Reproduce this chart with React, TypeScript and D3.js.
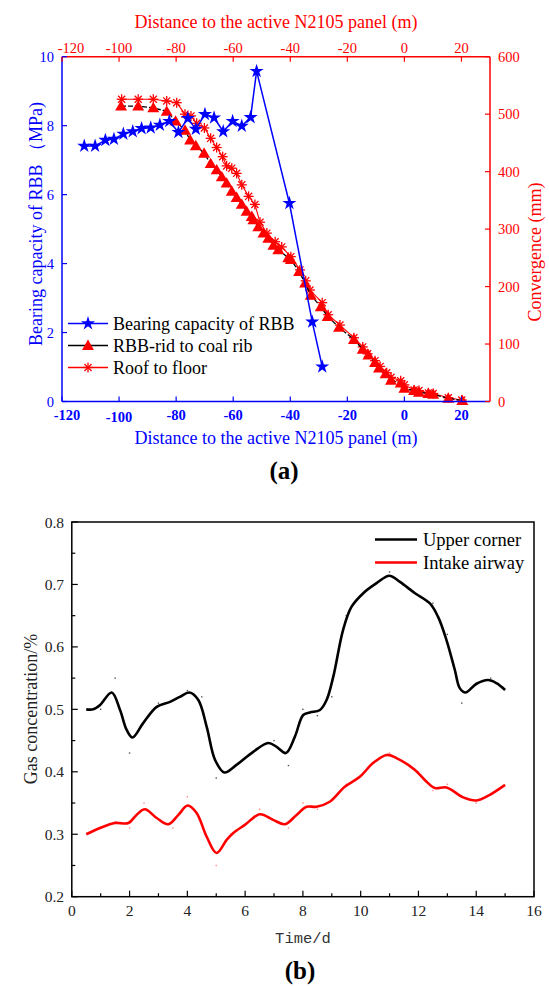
import React from "react";
import * as d3 from "d3";

// ---------- Chart (a) data ----------
const bearingX = [-112.2, -108.4, -104.8, -101.8, -98.5, -95.2, -92.1, -88.9, -85.7, -82.4, -79.2, -75.9, -73.1, -69.9, -66.7, -63.5, -60.2, -57.0, -53.9, -51.8, -40.3, -32.3, -28.8];
const bearingY = [7.41, 7.41, 7.58, 7.61, 7.76, 7.83, 7.92, 7.94, 8.02, 8.13, 7.81, 8.21, 7.90, 8.33, 8.23, 7.83, 8.13, 7.99, 8.24, 9.58, 5.75, 2.31, 1.01];

const ribX = [-99.3, -93.3, -88.0, -83.3, -80.2, -76.9, -75.1, -73.1, -70.2, -67.9, -65.8, -64.0, -62.3, -60.5, -58.8, -57.0, -55.3, -53.5, -52.9, -51.2, -49.4, -47.7, -45.9, -44.2, -40.7, -39.8, -36.9, -34.8, -32.8, -29.3, -26.9, -22.9, -17.7, -14.6, -12.6, -10.3, -8.9, -6.6, -4.7, -1.3, 0.0, 3.4, 5.1, 8.4, 10.1, 15.4, 20.3];
const ribY = [514, 514, 511, 505, 488, 472, 455, 445, 432, 414, 403, 391, 380, 366, 355, 343, 331, 322, 316, 304, 293, 284, 272, 264, 250, 247, 226, 206, 185, 165, 148, 129, 108, 91, 81, 68, 58, 48, 37, 32, 23, 19, 16, 14, 12.5, 5.5, 1.5];

const roofX = [-99.1, -93.3, -88.0, -83.3, -79.8, -76.9, -74.8, -72.8, -70.1, -67.9, -65.8, -63.7, -62.3, -60.5, -58.8, -57.0, -54.6, -52.4, -50.6, -48.2, -45.3, -43.0, -39.8, -36.6, -34.6, -33.1, -28.8, -26.7, -22.6, -17.7, -14.6, -12.9, -10.3, -8.5, -6.2, -4.7, -1.3, 0.0, 3.4, 5.1, 8.4, 10.1, 15.4, 20.1];
const roofY = [526, 526, 526, 523, 520, 500, 497, 484, 476, 458, 442, 426, 410, 406, 397, 377, 357, 343, 312, 293, 278, 269, 252, 229, 210, 194, 172, 151, 133, 111, 95, 83, 71, 61, 50, 42, 36, 29, 20, 19, 15, 14, 6.6, 2.6];

const xTicksA = [-120, -100, -80, -60, -40, -20, 0, 20];
const yTicksL = [0, 2, 4, 6, 8, 10];
const yTicksR = [0, 100, 200, 300, 400, 500, 600];
const legendA = ["Bearing capacity of RBB", "RBB-rid to coal rib", "Roof to floor"];

// ---------- Chart (b) data ----------
const upperT = [0.5, 0.74, 0.98, 1.38, 1.67, 1.9, 2.1, 2.47, 2.94, 3.4, 3.74, 4.07, 4.38, 4.67, 4.96, 5.28, 5.7, 6.28, 6.8, 7.09, 7.41, 7.72, 8.01, 8.24, 8.59, 8.82, 9.05, 9.39, 9.68, 10.09, 10.55, 10.99, 11.36, 11.88, 12.39, 12.68, 12.97, 13.26, 13.43, 13.63, 14.01, 14.41, 14.7, 15.0];
const upperV = [0.5, 0.5, 0.507, 0.527, 0.499, 0.467, 0.455, 0.478, 0.504, 0.512, 0.52, 0.527, 0.515, 0.472, 0.419, 0.399, 0.411, 0.432, 0.446, 0.44, 0.43, 0.456, 0.491, 0.495, 0.499, 0.515, 0.552, 0.627, 0.664, 0.686, 0.702, 0.714, 0.704, 0.686, 0.67, 0.648, 0.611, 0.563, 0.534, 0.527, 0.541, 0.547, 0.542, 0.531];
const intakeT = [0.5, 0.98, 1.49, 1.96, 2.24, 2.53, 2.94, 3.34, 3.69, 4.01, 4.32, 4.67, 5.01, 5.36, 5.59, 5.99, 6.51, 6.97, 7.38, 7.78, 8.13, 8.47, 8.93, 9.45, 9.97, 10.43, 10.9, 11.24, 11.88, 12.22, 12.57, 12.97, 13.55, 14.01, 14.47, 15.0];
const intakeV = [0.3, 0.31, 0.318, 0.318, 0.331, 0.34, 0.326, 0.316, 0.331, 0.346, 0.334, 0.296, 0.27, 0.291, 0.302, 0.315, 0.332, 0.323, 0.316, 0.331, 0.344, 0.344, 0.352, 0.376, 0.392, 0.414, 0.427, 0.422, 0.403, 0.387, 0.374, 0.375, 0.359, 0.354, 0.363, 0.379];
const upperRawT = [1, 1.5, 2, 3, 4, 4.5, 5, 7, 7.5, 8, 8.5, 9, 9.5, 11, 12.5, 13, 13.5, 14.5];
const upperRawV = [0.5, 0.55, 0.43, 0.51, 0.53, 0.52, 0.39, 0.45, 0.41, 0.5, 0.49, 0.52, 0.65, 0.72, 0.67, 0.62, 0.51, 0.55];
const intakeRawT = [1.5, 2, 2.5, 3.5, 4, 5, 5.5, 6.5, 7.5, 8, 8.5, 9.5, 11, 12, 12.5, 13, 14];
const intakeRawV = [0.32, 0.31, 0.35, 0.31, 0.36, 0.25, 0.3, 0.34, 0.31, 0.35, 0.34, 0.38, 0.43, 0.4, 0.37, 0.38, 0.35];
const xTicksB = [0, 2, 4, 6, 8, 10, 12, 14, 16];
const yTicksB = [0.2, 0.3, 0.4, 0.5, 0.6, 0.7, 0.8];
const legendB = ["Upper corner", "Intake airway"];

const SERIF = "'Liberation Serif', 'Times New Roman', serif";
const BLUE = "#0000ff";
const RED = "#ff0000";

function Asterisk({ x, y, r = 5 }: { x: number; y: number; r?: number }) {
  const spokes = [0, 45, 90, 135];
  return (
    <g transform={`translate(${x},${y})`}>
      {spokes.map((a) => {
        const rad = (a * Math.PI) / 180;
        return (
          <line key={a} x1={-r * Math.cos(rad)} y1={-r * Math.sin(rad)} x2={r * Math.cos(rad)} y2={r * Math.sin(rad)} stroke={RED} strokeWidth={1.3} />
        );
      })}
    </g>
  );
}

export default function App() {
  // ----- chart (a) scales -----
  const xA = d3.scaleLinear().domain([-120, 30]).range([62, 490]);
  const yL = d3.scaleLinear().domain([0, 10]).range([401.5, 56.7]);
  const yR = d3.scaleLinear().domain([0, 600]).range([401.5, 56.7]);
  const starPath = d3.symbol().type(d3.symbolStar).size(62)() as string;
  const triPath = d3.symbol().type(d3.symbolTriangle).size(62)() as string;

  const bearing = bearingX.map((x, i) => [x, bearingY[i]] as [number, number]);
  const rib = ribX.map((x, i) => [x, ribY[i]] as [number, number]);
  const roof = roofX.map((x, i) => [x, roofY[i]] as [number, number]);
  const lineL = d3.line<[number, number]>().x((d) => xA(d[0])).y((d) => yL(d[1]));
  const lineR = d3.line<[number, number]>().x((d) => xA(d[0])).y((d) => yR(d[1]));

  // ----- chart (b) scales -----
  const xB = d3.scaleLinear().domain([0, 16]).range([71.8, 534]);
  const yB = d3.scaleLinear().domain([0.2, 0.8]).range([896.7, 522]);
  const upper = upperT.map((t, i) => [t, upperV[i]] as [number, number]);
  const intake = intakeT.map((t, i) => [t, intakeV[i]] as [number, number]);
  const lineB = d3
    .line<[number, number]>()
    .x((d) => xB(d[0]))
    .y((d) => yB(d[1]))
    .curve(d3.curveCatmullRom.alpha(0.5));
  const minorX = d3.range(1, 16, 2);
  const minorY = [0.25, 0.35, 0.45, 0.55, 0.65, 0.75];

  const [aL, aR] = xA.range();
  const aB = 401.5, aT = 56.7;
  const [bL, bR] = xB.range();
  const bB = 896.7, bT = 522;

  return (
    <svg width={549} height={986} style={{ position: "absolute", left: 0, top: 0, background: "#fff" }} fontFamily={SERIF}>
      <rect x={0} y={0} width={549} height={986} fill="#fff" />
      {/* ================= Chart (a) ================= */}
      <text x={276} y={22} fill={RED} fontSize={18} textAnchor="middle" dominantBaseline="central">
        Distance to the active N2105 panel (m)
      </text>
      {/* data: roof to floor */}
      <path d={lineR(roof) as string} fill="none" stroke={RED} strokeWidth={1.1} />
      {roof.map((d, i) => (
        <Asterisk key={"r" + i} x={xA(d[0])} y={yR(d[1])} />
      ))}
      {/* data: rib */}
      <path d={lineR(rib) as string} fill="none" stroke="#000" strokeWidth={1.3} strokeDasharray="5,2" />
      {rib.map((d, i) => (
        <path key={"t" + i} d={triPath} transform={`translate(${xA(d[0])},${yR(d[1]) + 1})`} fill={RED} />
      ))}
      {/* data: bearing */}
      <path d={lineL(bearing) as string} fill="none" stroke={BLUE} strokeWidth={1.5} />
      {bearing.map((d, i) => (
        <path key={"s" + i} d={starPath} transform={`translate(${xA(d[0])},${yL(d[1])})`} fill={BLUE} />
      ))}

      {/* axes frame */}
      <line x1={aL} x2={aL} y1={aT} y2={aB} stroke={BLUE} strokeWidth={1.5} />
      <line x1={aL} x2={aR} y1={aB} y2={aB} stroke={BLUE} strokeWidth={1.5} />
      <line x1={aL} x2={aR} y1={aT} y2={aT} stroke={RED} strokeWidth={1.5} />
      <line x1={aR} x2={aR} y1={aT} y2={aB} stroke={RED} strokeWidth={1.5} />

      {/* top ticks */}
      {xTicksA.map((t, i) => (
        <g key={"tt" + t}>
          <line x1={xA(t)} x2={xA(t)} y1={aT} y2={aT + 5} stroke={RED} strokeWidth={1.2} />
          <text x={xA(t) + (i === 0 ? 9 : 0)} y={48} fill={RED} fontSize={14.5} textAnchor="middle" dominantBaseline="central">
            {t}
          </text>
        </g>
      ))}
      {/* bottom ticks */}
      {xTicksA.map((t, i) => (
        <g key={"bt" + t}>
          <line x1={xA(t)} x2={xA(t)} y1={aB} y2={aB - 5} stroke={BLUE} strokeWidth={1.2} />
          <text x={xA(t) + (i === 0 ? 5 : 0)} y={i === 1 ? 416.5 : 415} fill={BLUE} fontSize={14.5} fontWeight="bold" textAnchor="middle" dominantBaseline="central">
            {t}
          </text>
        </g>
      ))}
      {/* left ticks */}
      {yTicksL.map((t) => (
        <g key={"lt" + t}>
          <line x1={aL} x2={aL + 5} y1={yL(t)} y2={yL(t)} stroke={BLUE} strokeWidth={1.2} />
          <text x={aL - 8} y={yL(t)} fill={BLUE} fontSize={14.5} textAnchor="end" dominantBaseline="central">
            {t}
          </text>
        </g>
      ))}
      {/* right ticks */}
      {yTicksR.map((t) => (
        <g key={"rt" + t}>
          <line x1={aR} x2={aR - 5} y1={yR(t)} y2={yR(t)} stroke={RED} strokeWidth={1.2} />
          <text x={aR + 8} y={yR(t)} fill={RED} fontSize={14.5} textAnchor="start" dominantBaseline="central">
            {t}
          </text>
        </g>
      ))}
      {/* axis titles */}
      <text x={276} y={438} fill={BLUE} fontSize={18} textAnchor="middle" dominantBaseline="central">
        Distance to the active N2105 panel (m)
      </text>
      <text transform="translate(36,224) rotate(-90)" fill={BLUE} fontSize={18} textAnchor="middle" dominantBaseline="central">
        Bearing capacity of RBB （MPa)
      </text>
      <text transform="translate(535,252) rotate(-90)" fill={RED} fontSize={18} textAnchor="middle" dominantBaseline="central">
        Convergence (mm)
      </text>

      {/* legend (a) */}
      {legendA.map((name, i) => {
        const y = 323.5 + i * 22;
        const col = i === 0 ? BLUE : i === 1 ? "#000" : RED;
        return (
          <g key={"la" + i}>
            <line x1={68} x2={108} y1={y} y2={y} stroke={col} strokeWidth={1.5} />
            {i === 0 && <path d={starPath} transform={`translate(88,${y})`} fill={BLUE} />}
            {i === 1 && <path d={triPath} transform={`translate(88,${y + 1})`} fill={RED} />}
            {i === 2 && <Asterisk x={88} y={y} />}
            <text x={113} y={y} fontSize={18} fill="#000" dominantBaseline="central">
              {name}
            </text>
          </g>
        );
      })}
      <text x={284} y={470} fontSize={25} fontWeight="bold" textAnchor="middle" dominantBaseline="central">
        (a)
      </text>

      {/* ================= Chart (b) ================= */}
      {upperRawT.map((t, i) => (
        <rect key={"ud" + i} x={xB(t) - 0.7} y={yB(upperRawV[i]) - 0.7} width={1.4} height={1.4} fill="#555" />
      ))}
      {intakeRawT.map((t, i) => (
        <rect key={"id" + i} x={xB(t) - 0.7} y={yB(intakeRawV[i]) - 0.7} width={1.4} height={1.4} fill="#f88" />
      ))}
      <path d={lineB(upper) as string} fill="none" stroke="#000" strokeWidth={2.6} />
      <path d={lineB(intake) as string} fill="none" stroke={RED} strokeWidth={2.6} />

      <rect x={bL} y={bT} width={bR - bL} height={bB - bT} fill="none" stroke="#000" strokeWidth={1.5} />
      {xTicksB.map((t) => (
        <g key={"xb" + t}>
          <line x1={xB(t)} x2={xB(t)} y1={bB} y2={bB - 6} stroke="#000" strokeWidth={1.2} />
          <text x={xB(t)} y={910} fontSize={15.5} fill="#222" textAnchor="middle" dominantBaseline="central">
            {t}
          </text>
        </g>
      ))}
      {minorX.map((t) => (
        <line key={"mx" + t} x1={xB(t)} x2={xB(t)} y1={bB} y2={bB - 3.5} stroke="#000" strokeWidth={1.2} />
      ))}
      {yTicksB.map((t) => (
        <g key={"yb" + t}>
          <line x1={bL} x2={bL + 6} y1={yB(t)} y2={yB(t)} stroke="#000" strokeWidth={1.2} />
          <text x={64} y={yB(t)} fontSize={15.5} fill="#222" textAnchor="end" dominantBaseline="central">
            {t.toFixed(1)}
          </text>
        </g>
      ))}
      {minorY.map((t) => (
        <line key={"my" + t} x1={bL} x2={bL + 3.5} y1={yB(t)} y2={yB(t)} stroke="#000" strokeWidth={1.2} />
      ))}
      <text x={303} y={939} fontSize={15.5} fill="#333" fontFamily="'Liberation Mono', 'Courier New', monospace" textAnchor="middle" dominantBaseline="central">
        Time/d
      </text>
      <text transform="translate(31,709) rotate(-90)" fontSize={18} fill="#222" textAnchor="middle" dominantBaseline="central">
        Gas concentration/%
      </text>
      {legendB.map((name, i) => {
        const y = 539.5 + i * 23;
        return (
          <g key={"lb" + i}>
            <line x1={375} x2={417} y1={y} y2={y} stroke={i === 0 ? "#000" : RED} strokeWidth={2.6} />
            <text x={423} y={y} fontSize={18.5} fill="#000" dominantBaseline="central">
              {name}
            </text>
          </g>
        );
      })}
      <text x={300} y={970} fontSize={25} fontWeight="bold" textAnchor="middle" dominantBaseline="central">
        (b)
      </text>
    </svg>
  );
}
